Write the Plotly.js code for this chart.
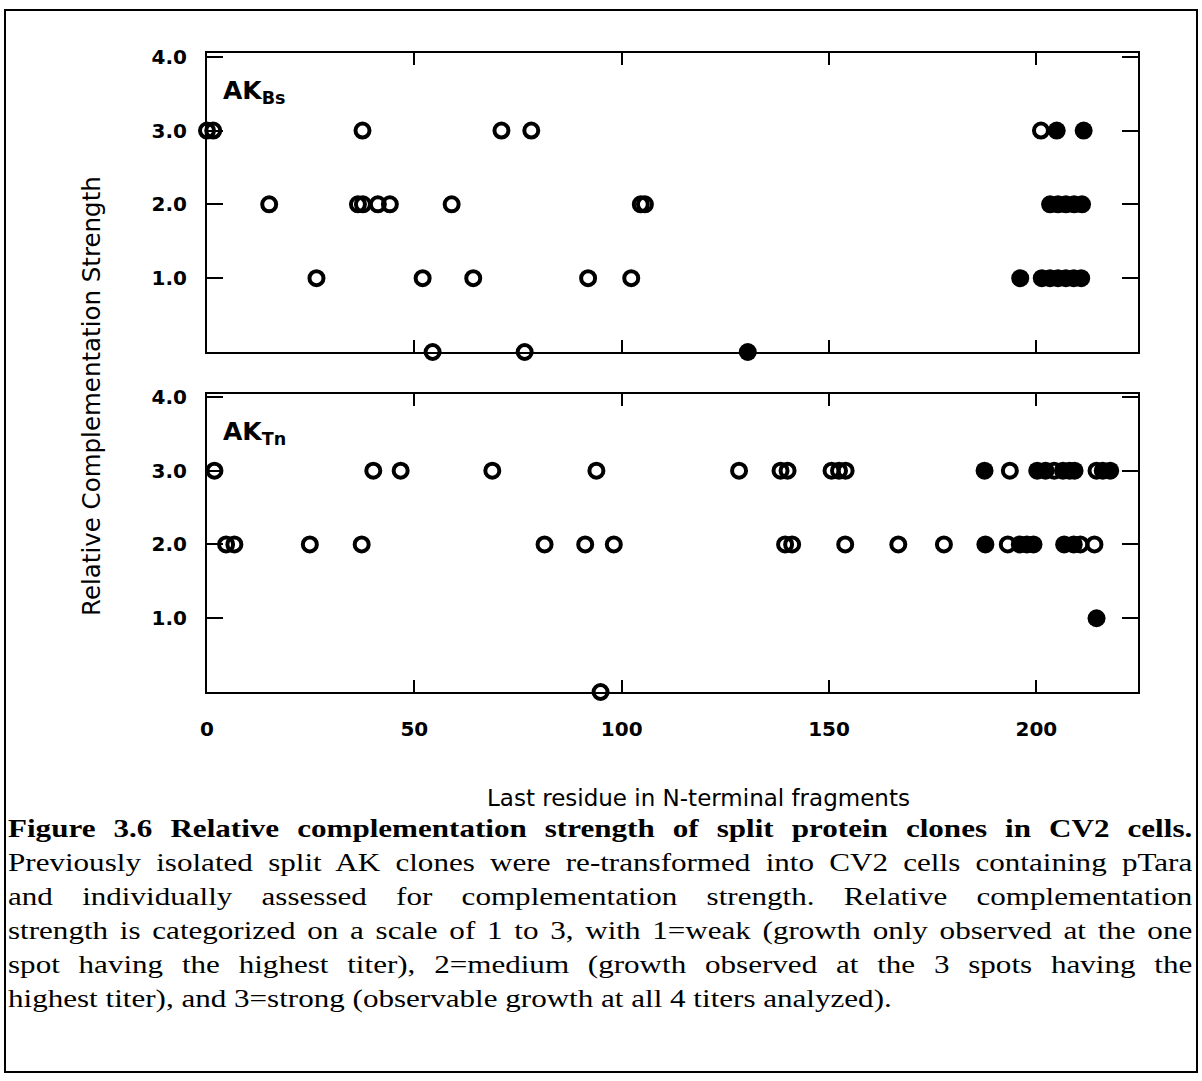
<!DOCTYPE html>
<html>
<head>
<meta charset="utf-8">
<script src="https://cdn.plot.ly/plotly-3.0.1.min.js"></script>
<style>
  html, body { margin: 0; padding: 0; background: #fff; overflow: hidden; }
  #wrap { position: relative; width: 1202px; height: 1081px; }
  #chart { position: absolute; left: 0; top: 0; width: 1202px; height: 1081px; }
  #caption {
    position: absolute; left: 8px; top: 812px; width: 991px;
    transform: scaleX(1.195); transform-origin: 0 0;
    font-family: "Liberation Serif", "Times New Roman", serif;
    font-size: 26px; line-height: 34px; color: #000;
  }
  #caption div { text-align: justify; text-align-last: justify; white-space: nowrap; }
  #caption div.last { text-align: left; text-align-last: left; }
  #caption b { font-weight: bold; }
</style>
</head>
<body>
<div id="wrap">
  <div id="chart"></div>
  <div id="caption">
    <div><b>Figure 3.6 Relative complementation strength of split protein clones in CV2 cells.</b></div>
    <div>Previously isolated split AK clones were re-transformed into CV2 cells containing pTara</div>
    <div>and individually assessed for complementation strength. Relative complementation</div>
    <div>strength is categorized on a scale of 1 to 3, with 1=weak (growth only observed at the one</div>
    <div>spot having the highest titer), 2=medium (growth observed at the 3 spots having the</div>
    <div class="last">highest titer), and 3=strong (observable growth at all 4 titers analyzed).</div>
  </div>
</div>
<script>
// AK(Bs) panel: last residue of the N-terminal fragment vs. complementation strength
const bsOpenX   = [0, 1.5, 37.5, 71, 78.2, 201.1,
                   15, 36.4, 37.6, 41.2, 44.1, 59, 104.6, 105.6,
                   26.4, 52, 64.2, 91.9, 102.3,
                   54.4, 76.6];
const bsOpenY   = [3, 3, 3, 3, 3, 3,
                   2, 2, 2, 2, 2, 2, 2, 2,
                   1, 1, 1, 1, 1,
                   0, 0];
const bsFilledX = [204.9, 211.4,
                   203.3, 205.2, 207.1, 209.1, 211,
                   196.1, 201.3, 203.3, 205.2, 207.1, 209, 210.8,
                   130.4];
const bsFilledY = [3, 3,
                   2, 2, 2, 2, 2,
                   1, 1, 1, 1, 1, 1, 1,
                   0];

// AK(Tn) panel
const tnOpenX   = [1.8, 40.1, 46.7, 68.8, 93.9, 128.3, 138.3, 140, 150.6, 152.4, 154, 193.6, 204.3, 214.5,
                   4.6, 6.6, 24.8, 37.3, 81.4, 91.2, 98.1, 139.4, 141.1, 153.9, 166.7, 177.7, 193.1, 210.6, 214,
                   94.9];
const tnOpenY   = [3, 3, 3, 3, 3, 3, 3, 3, 3, 3, 3, 3, 3, 3,
                   2, 2, 2, 2, 2, 2, 2, 2, 2, 2, 2, 2, 2, 2, 2,
                   0];
const tnFilledX = [187.5, 200.2, 202.2, 206.4, 208, 209.2, 216, 217.8,
                   187.7, 196, 197.7, 199.3, 206.7, 209,
                   214.5];
const tnFilledY = [3, 3, 3, 3, 3, 3, 3, 3,
                   2, 2, 2, 2, 2, 2,
                   1];

const xTickVals = [0, 50, 100, 150, 200];
const yTickVals = [1, 2, 3, 4];
const yTickText = ['1.0', '2.0', '3.0', '4.0'];
const panelLabels = ['AK<sub>Bs</sub>', 'AK<sub>Tn</sub>'];

const W = 1202, H = 1081;
const px = v => v / W;          // horizontal pixel -> paper fraction
const py = v => 1 - v / H;      // vertical pixel -> paper fraction

const openMarker   = { symbol: 'circle-open', size: 14, color: '#000', line: { width: 4, color: '#000' } };
const filledMarker = { symbol: 'circle', size: 18, color: '#000', line: { width: 0 } };

function pts(x, y, xa, ya, marker) {
  return { x: x, y: y, xaxis: xa, yaxis: ya, type: 'scatter', mode: 'markers',
           marker: marker, cliponaxis: false, hoverinfo: 'x+y', showlegend: false };
}

const data = [
  pts(bsFilledX, bsFilledY, 'x2', 'y2', filledMarker),
  pts(bsOpenX,   bsOpenY,   'x2', 'y2', openMarker),
  pts(tnFilledX, tnFilledY, 'x',  'y',  filledMarker),
  pts(tnOpenX,   tnOpenY,   'x',  'y',  openMarker)
];

const tickFont = { family: 'DejaVu Sans', size: 20, color: '#000', weight: 'bold' };
const xDomain = [px(207), px(1138)];

function xAxis(anchor, showLabels) {
  return {
    domain: xDomain, anchor: anchor, range: [0, 224.5],
    showline: true, linewidth: 2, linecolor: '#000', mirror: 'ticks',
    ticks: 'inside', ticklen: 12, tickwidth: 2, tickcolor: '#000',
    tickvals: xTickVals, showticklabels: showLabels, tickfont: tickFont,
    ticklabelstandoff: 18,
    showgrid: false, zeroline: false, fixedrange: true
  };
}
function yAxis(anchor, domain, top) {
  return {
    domain: domain, anchor: anchor, range: [0, top],
    showline: true, linewidth: 2, linecolor: '#000', mirror: 'ticks',
    ticks: 'inside', ticklen: 16, tickwidth: 2, tickcolor: '#000',
    tickvals: yTickVals, ticktext: yTickText, tickfont: tickFont,
    ticklabelstandoff: 14,
    showgrid: false, zeroline: false, fixedrange: true
  };
}

const layout = {
  width: W, height: H,
  margin: { l: 0, r: 0, t: 0, b: 0 },
  paper_bgcolor: '#fff', plot_bgcolor: '#fff',
  xaxis:  xAxis('y', true),
  yaxis:  yAxis('x', [py(692), py(394)], 4.04),
  xaxis2: xAxis('y2', false),
  yaxis2: yAxis('x2', [py(352), py(53)], 4.05),
  annotations: [
    { text: '<b>' + panelLabels[0] + '</b>', xref: 'paper', yref: 'paper',
      x: px(221), y: py(74), xanchor: 'left', yanchor: 'top', showarrow: false,
      font: { family: 'DejaVu Sans', size: 25, color: '#000' } },
    { text: '<b>' + panelLabels[1] + '</b>', xref: 'paper', yref: 'paper',
      x: px(221), y: py(415), xanchor: 'left', yanchor: 'top', showarrow: false,
      font: { family: 'DejaVu Sans', size: 25, color: '#000' } },
    { text: 'Relative Complementation Strength', xref: 'paper', yref: 'paper',
      x: px(92), y: py(396), xanchor: 'center', yanchor: 'middle', textangle: -90,
      showarrow: false, font: { family: 'DejaVu Sans', size: 24.5, color: '#000' } },
    { text: 'Last residue in N-terminal fragments', xref: 'paper', yref: 'paper',
      x: px(698), y: py(798), xanchor: 'center', yanchor: 'middle',
      showarrow: false, font: { family: 'DejaVu Sans', size: 23, color: '#000' } }
  ],
  shapes: [
    { type: 'rect', xref: 'paper', yref: 'paper',
      x0: px(5), x1: px(1197), y0: py(1072), y1: py(10),
      line: { color: '#000', width: 2 } }
  ]
};

Plotly.newPlot('chart', data, layout, { staticPlot: true, displayModeBar: false });
</script>
</body>
</html>
